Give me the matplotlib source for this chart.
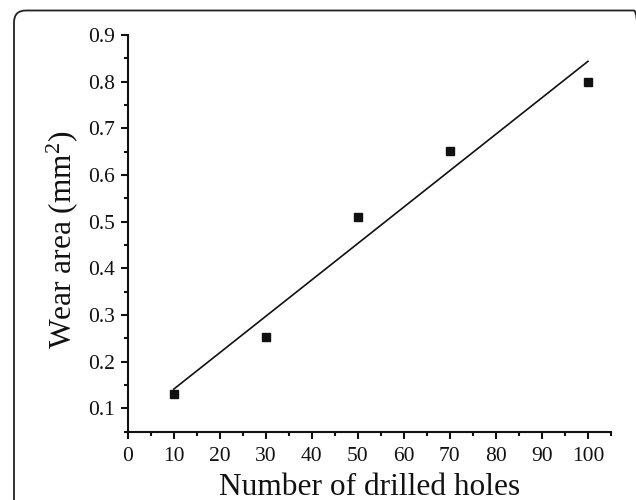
import numpy as np
import matplotlib
matplotlib.use("Agg")
import matplotlib.pyplot as plt
from matplotlib.patches import FancyBboxPatch
from matplotlib.ticker import MultipleLocator

plt.rcParams['font.family'] = ['Liberation Serif', 'DejaVu Serif']
plt.rcParams['mathtext.fontset'] = 'custom'
plt.rcParams['mathtext.rm'] = 'Liberation Serif'

holes = [10, 30, 50, 70, 100]
wear_area = [0.13, 0.253, 0.51, 0.652, 0.80]
x_ticks = [0, 10, 20, 30, 40, 50, 60, 70, 80, 90, 100]
y_ticks = [0.1, 0.2, 0.3, 0.4, 0.5, 0.6, 0.7, 0.8, 0.9]

W, H = 636, 500
fig = plt.figure(figsize=(W / 100, H / 100), dpi=100)

# rounded frame (in inches so the rounding is circular)
frame = FancyBboxPatch((0.14, -0.5), 6.46 - 0.14, 4.895 + 0.5,
                       boxstyle="round,pad=0,rounding_size=0.12",
                       transform=fig.dpi_scale_trans, fill=False,
                       edgecolor='#222222', linewidth=1.3, clip_on=False)
fig.patches.append(frame)

ax = fig.add_axes([127.7 / W, 1 - 431.7 / H, (611 - 127.7) / W, (431.7 - 35) / H])

ax.plot(holes, wear_area, 's', color='#111111', markersize=6.2, zorder=3)
coef = np.polyfit(holes, wear_area, 1)
xf = np.array([min(holes), max(holes)])
ax.plot(xf, np.polyval(coef, xf), '-', color='#111111', linewidth=1.2)

ax.set_xlim(0, 105)
ax.set_ylim(0.05, 0.9)
ax.set_xticks(x_ticks)
ax.set_yticks(y_ticks)
ax.set_xticklabels([str(v) for v in x_ticks])
ax.set_yticklabels([f"{v:.1f}" for v in y_ticks])
ax.xaxis.set_minor_locator(MultipleLocator(5))
ax.yaxis.set_minor_locator(MultipleLocator(0.05))

for s in ['top', 'right']:
    ax.spines[s].set_visible(False)
for s in ['left', 'bottom']:
    ax.spines[s].set_linewidth(1.5)
    ax.spines[s].set_color('#111111')

ax.tick_params(which='major', direction='out', length=5, width=1.5,
               labelsize=15.5, colors='#111111')
ax.tick_params(which='minor', direction='out', length=3, width=1.5, colors='#111111')
ax.tick_params(axis='x', which='major', pad=6)
ax.tick_params(axis='y', which='major', pad=4)

ax.set_xlabel('Number of drilled holes', fontsize=22.6, color='#111111', labelpad=5)
ax.set_ylabel('Wear area (mm$\\mathregular{^2}$)', fontsize=22.6, color='#111111', labelpad=6)
ax.yaxis.label.set_y(0.483)

fig.savefig('out.png', dpi=100)
